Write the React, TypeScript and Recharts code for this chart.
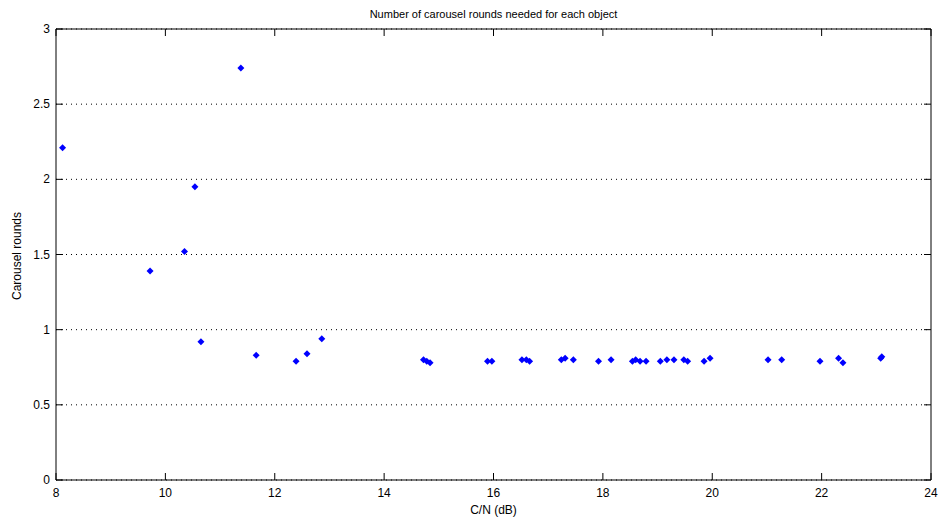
import { ScatterChart, Scatter, XAxis, YAxis, CartesianGrid } from 'recharts'

const cnDb = [
  8.12, 9.72, 10.35, 10.54, 10.65, 11.38, 11.66, 12.39, 12.59, 12.86,
  14.72, 14.78, 14.84, 15.89, 15.97, 16.52, 16.6, 16.66, 17.24, 17.31,
  17.46, 17.92, 18.15, 18.54, 18.6, 18.68, 18.79, 19.05, 19.17, 19.3,
  19.48, 19.55, 19.85, 19.96, 21.02, 21.27, 21.97, 22.31, 22.39, 23.08, 23.1,
]
const rounds = [
  2.21, 1.39, 1.52, 1.95, 0.92, 2.74, 0.83, 0.79, 0.84, 0.94,
  0.8, 0.79, 0.78, 0.79, 0.79, 0.8, 0.8, 0.79, 0.8, 0.81,
  0.8, 0.79, 0.8, 0.79, 0.8, 0.79, 0.79, 0.79, 0.8, 0.8,
  0.8, 0.79, 0.79, 0.81, 0.8, 0.8, 0.79, 0.81, 0.78, 0.81, 0.82,
]
const xTicks = [8, 10, 12, 14, 16, 18, 20, 22, 24]
const yTicks = [0, 0.5, 1, 1.5, 2, 2.5, 3]

const data = cnDb.map((x, i) => ({ x, y: rounds[i] }))

const font = '"Liberation Sans", Arial, sans-serif'

// ticks point inward, matlab style
const BottomTick = ({ x, y, payload }: any) => (
  <g>
    <line x1={x} y1={y} x2={x} y2={y - 7} stroke="#000" />
    <text x={x} y={y + 17} textAnchor="middle" fontSize={12} fontFamily={font} fill="#000">
      {payload.value}
    </text>
  </g>
)

const TopTick = ({ x, y }: any) => (
  <line x1={x} y1={y} x2={x} y2={y + 7} stroke="#000" />
)

const LeftTick = ({ x, y, payload }: any) => (
  <g>
    <line x1={x} y1={y} x2={x + 7} y2={y} stroke="#000" />
    <text x={x - 6} y={y + 4} textAnchor="end" fontSize={12} fontFamily={font} fill="#000">
      {payload.value}
    </text>
  </g>
)

const RightTick = ({ x, y }: any) => (
  <line x1={x} y1={y} x2={x - 7} y2={y} stroke="#000" />
)

const Diamond = ({ cx, cy }: any) => (
  <path d={`M${cx},${cy - 3.5}L${cx + 3.5},${cy}L${cx},${cy + 3.5}L${cx - 3.5},${cy}Z`} fill="#0000ff" />
)

export default function App() {
  return (
    <div style={{ position: 'absolute', left: 0, top: 0, width: 940, height: 522, background: '#fff', fontFamily: font }}>
      <div style={{ position: 'absolute', left: 56, width: 875, top: 8, textAlign: 'center', fontSize: 11 }}>
        Number of carousel rounds needed for each object
      </div>
      <div style={{ position: 'absolute', left: 56, width: 875, top: 503, textAlign: 'center', fontSize: 12 }}>
        C/N (dB)
      </div>
      <div
        style={{
          position: 'absolute', left: 17, top: 256, fontSize: 12, whiteSpace: 'nowrap',
          transform: 'translate(-50%, -50%) rotate(-90deg)',
        }}
      >
        Carousel rounds
      </div>
      <ScatterChart width={940} height={522} margin={{ top: 28, right: 8, bottom: 41, left: 55 }}>
        <CartesianGrid vertical={false} stroke="#000" strokeDasharray="1 4" />
        <XAxis
          type="number" dataKey="x" domain={[8, 24]} ticks={xTicks}
          height={1} tickLine={false} tickSize={0} tickMargin={0} stroke="#000"
          tick={<BottomTick />} interval={0} allowDataOverflow
        />
        <XAxis
          type="number" dataKey="x" xAxisId="t" orientation="top" domain={[8, 24]} ticks={xTicks}
          height={1} tickLine={false} tickSize={0} tickMargin={0} stroke="#000"
          tick={<TopTick />} interval={0} allowDataOverflow
        />
        <YAxis
          type="number" dataKey="y" domain={[0, 3]} ticks={yTicks}
          width={1} tickLine={false} tickSize={0} tickMargin={0} stroke="#000"
          tick={<LeftTick />} interval={0} allowDataOverflow
        />
        <YAxis
          type="number" dataKey="y" yAxisId="r" orientation="right" domain={[0, 3]} ticks={yTicks}
          width={1} tickLine={false} tickSize={0} tickMargin={0} stroke="#000"
          tick={<RightTick />} interval={0} allowDataOverflow
        />
        <Scatter data={data} shape={<Diamond />} isAnimationActive={false} />
        <Scatter data={data} xAxisId="t" yAxisId="r" shape={() => null} isAnimationActive={false} />
      </ScatterChart>
    </div>
  )
}
